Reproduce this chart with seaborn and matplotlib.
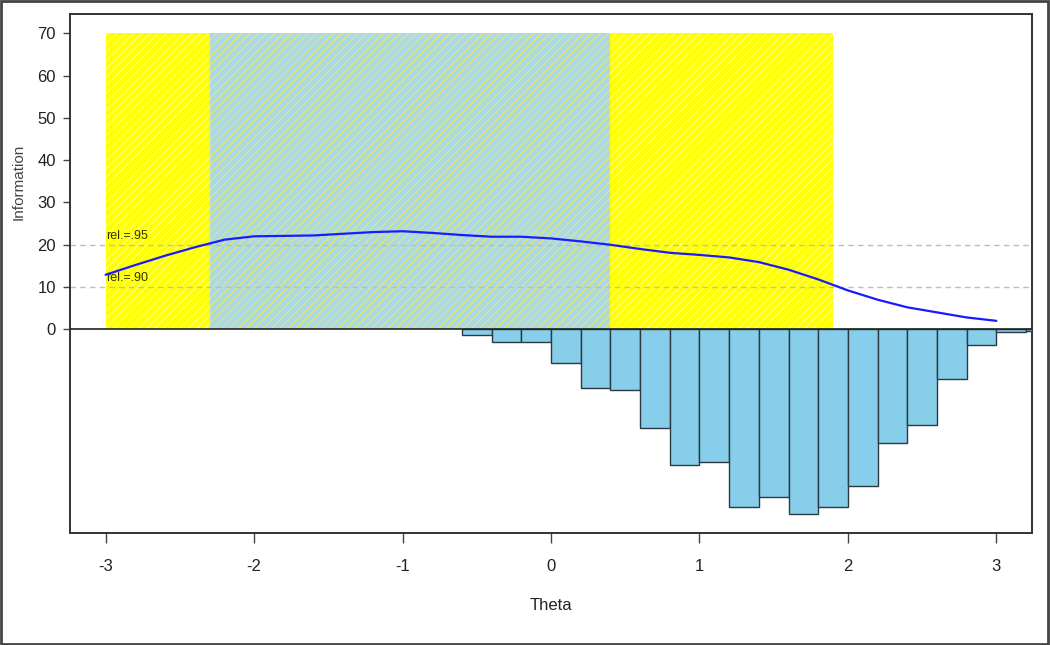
import numpy as np
import pandas as pd
import matplotlib
matplotlib.use("Agg")
import matplotlib.pyplot as plt
import seaborn as sns
from matplotlib.patches import Rectangle

# test information curve
theta = [-3.0, -2.8, -2.6, -2.4, -2.2, -2.0, -1.8, -1.6, -1.4, -1.2, -1.0,
         -0.8, -0.6, -0.4, -0.2, 0.0, 0.2, 0.4, 0.6, 0.8, 1.0,
         1.2, 1.4, 1.6, 1.8, 2.0, 2.2, 2.4, 2.6, 2.8, 3.0]
info = [12.9, 15.2, 17.4, 19.4, 21.2, 22.0, 22.1, 22.2, 22.6, 23.0, 23.2,
        22.8, 22.3, 21.9, 21.9, 21.5, 20.8, 20.0, 19.0, 18.1, 17.6,
        17.0, 15.9, 14.1, 11.8, 9.2, 7.0, 5.2, 4.0, 2.8, 2.0]

# person distribution (drawn downward), left bin edges
hist_left = [-0.6, -0.4, -0.2, 0.0, 0.2, 0.4, 0.6, 0.8, 1.0, 1.2,
             1.4, 1.6, 1.8, 2.0, 2.2, 2.4, 2.6, 2.8, 3.0, 3.2]
hist_depth = [1.4, 3.1, 3.1, 8.0, 14.0, 14.4, 23.4, 32.0, 31.3, 42.1,
              39.8, 43.6, 42.1, 37.0, 27.0, 22.7, 11.8, 3.8, 0.7, 0.5]
bin_width = 0.2

# reliability regions
band_edges = [-3.0, -2.3, 0.4, 1.9]
band_colors = ["yellow", "lightblue", "yellow"]
band_top = 70

rel_levels = [20, 10]
rel_labels = ["rel.=.95", "rel.=.90"]

sns.set_style("white")
plt.rcParams["font.family"] = ["Liberation Sans", "DejaVu Sans"]
plt.rcParams["hatch.linewidth"] = 0.6

fig = plt.figure(figsize=(10.5, 6.45), dpi=100)
ax = fig.add_axes([70 / 1050, 1 - 533 / 645, (1032 - 70) / 1050, (533 - 14) / 645])

# shaded bands
for i, c in enumerate(band_colors):
    hc = "#ffff9a" if c == "yellow" else "#f4f43a"
    ax.fill_between([band_edges[i], band_edges[i + 1]], 0, band_top,
                    facecolor=c, edgecolor=hc, hatch="////", linewidth=0, zorder=1)

# reliability reference lines
for lvl, lab in zip(rel_levels, rel_labels):
    ax.axhline(lvl, color="#bdbdbd", ls=(0, (4, 3)), lw=1, zorder=2)
    ax.text(-3.0, lvl + 0.6, lab, fontsize=9, color="#333300", ha="left", va="bottom", zorder=4)

# histogram below zero
ax.bar(hist_left, [-d for d in hist_depth], width=bin_width, align="edge",
       color="skyblue", edgecolor="#2a3a40", linewidth=1, zorder=3)
ax.axhline(0, color="#222222", lw=1.2, zorder=4)

# information curve
df = pd.DataFrame({"Theta": theta, "Information": info})
sns.lineplot(data=df, x="Theta", y="Information", color="#1a1aff", lw=1.6, ax=ax, zorder=5)

ax.set_xlim(-3.24, 3.24)
ax.set_ylim(-48.2, 74.6)
ax.set_xticks([-3, -2, -1, 0, 1, 2, 3])
ax.set_xticklabels(["-3", "-2", "-1", "0", "1", "2", "3"])
ax.set_yticks([0, 10, 20, 30, 40, 50, 60, 70])
ax.tick_params(axis="x", length=7, width=1, color="#444444", pad=12, labelsize=12, labelcolor="#222222")
ax.tick_params(axis="y", length=5, width=1, color="#444444", pad=5, labelsize=12, labelcolor="#222222")
ax.tick_params(bottom=True, left=True)
ax.set_xlabel("")
ax.set_ylabel("")
for s in ax.spines.values():
    s.set_color("#333333")
    s.set_linewidth(1.4)

fig.text(551 / 1050, 1 - 606 / 645, "Theta", ha="center", va="center", fontsize=12, color="#222222")
fig.text(19 / 1050, 1 - 182 / 645, "Information", ha="center", va="center", rotation=90,
         fontsize=11, color="#444444")

# outer frame
fig.patches.append(Rectangle((0.001, 0.002), 0.997, 0.996, transform=fig.transFigure,
                             fill=False, edgecolor="#444444", lw=2))

fig.savefig("out.png", dpi=100)
